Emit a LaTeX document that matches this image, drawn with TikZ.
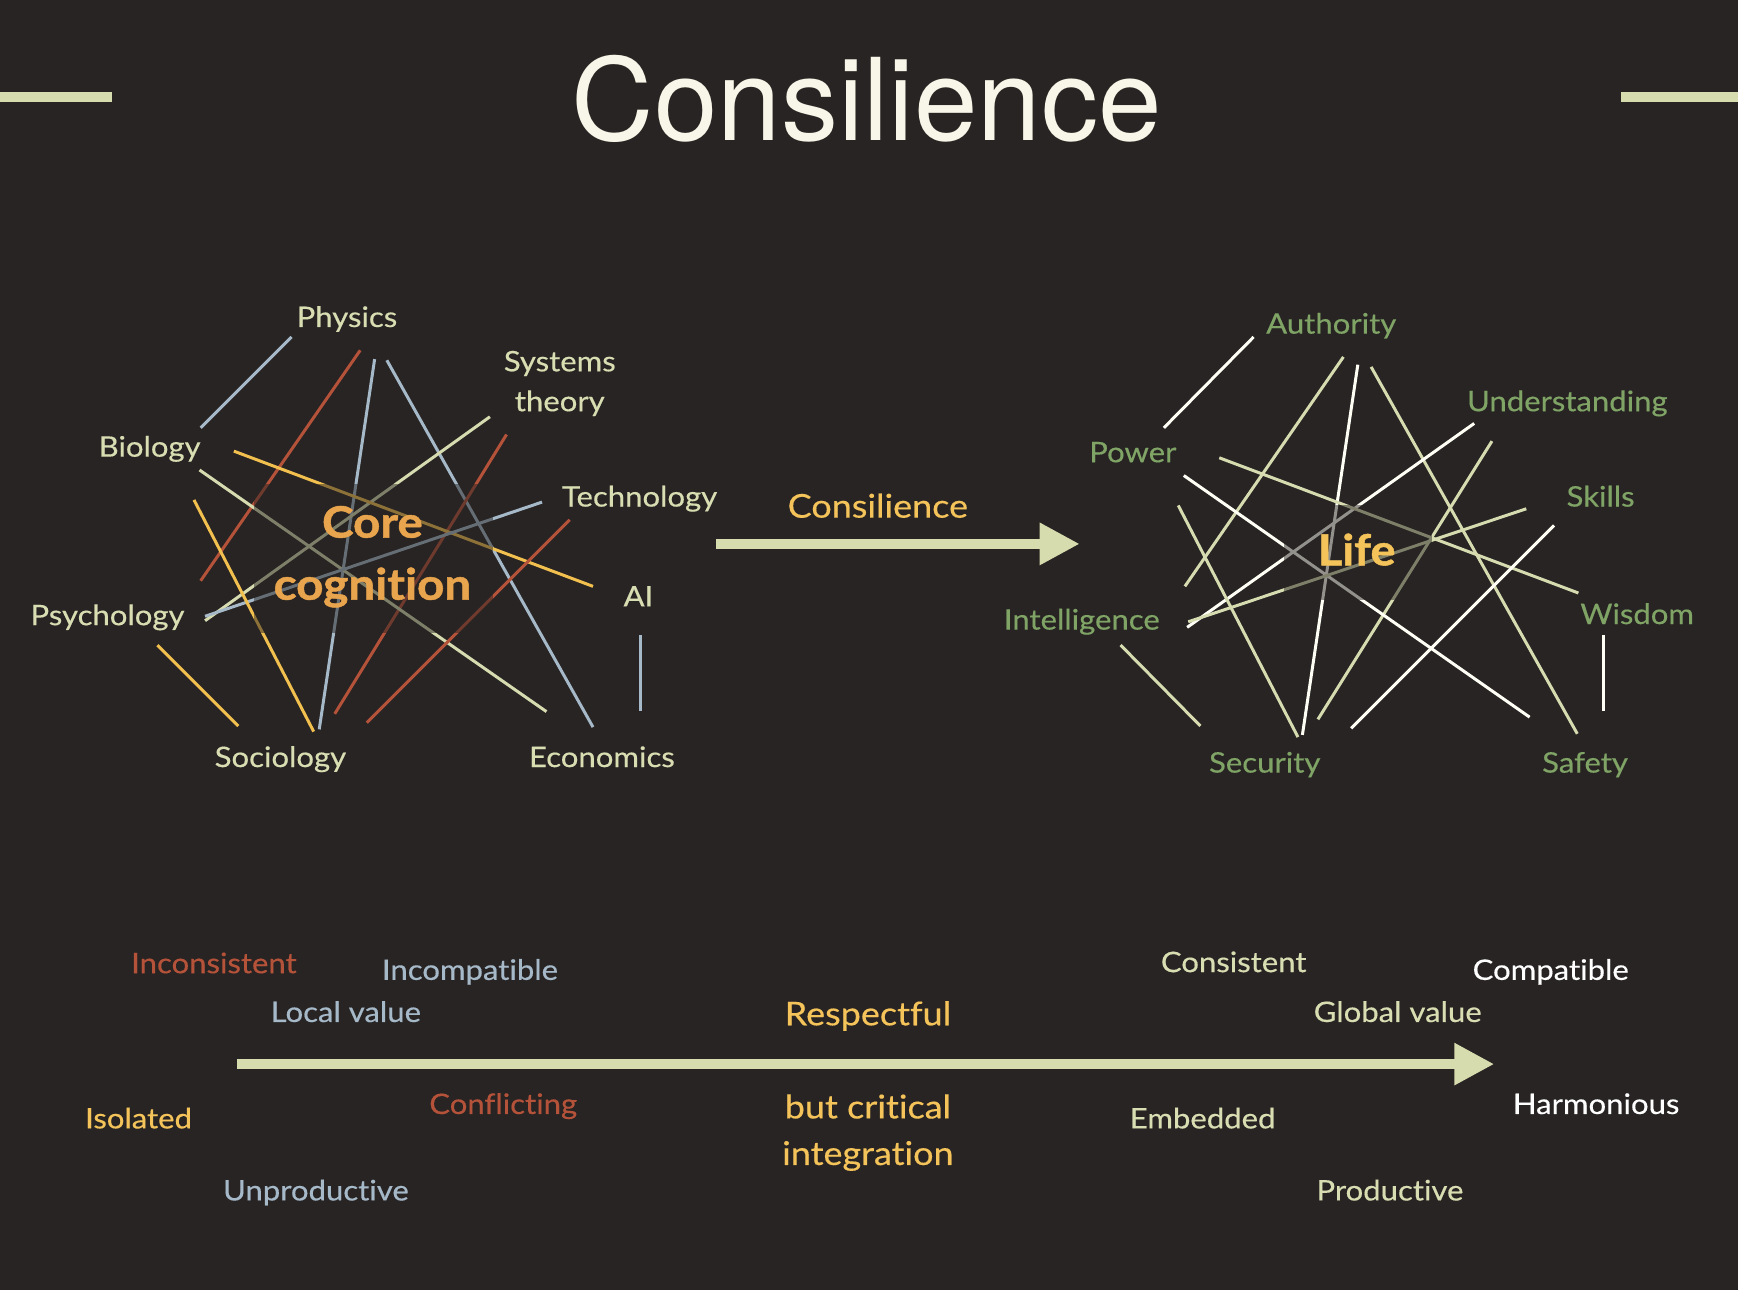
\documentclass[tikz,border=0pt]{standalone}
\usepackage{fontspec}
\setmainfont{Lato}[FakeStretch=1.1, FakeBold=0.4, Ligatures=NoCommon]
\newfontfamily\heavyfont{Lato}[FakeStretch=1.1, Ligatures=NoCommon, BoldFeatures={FakeBold=1.2}]
\newfontfamily\titlefont{TeX Gyre Heros}
\usetikzlibrary{arrows.meta}
\definecolor{bg}{HTML}{282423}
\definecolor{pale}{HTML}{D6DBB0}
\definecolor{paletext}{HTML}{D8DDB2}
\definecolor{redl}{HTML}{B5523A}
\definecolor{bluel}{HTML}{A6B9C9}
\definecolor{yell}{HTML}{F2C04E}
\definecolor{whitel}{HTML}{FFFFF6}
\definecolor{greent}{HTML}{7FA466}
\definecolor{oranget}{HTML}{E9A54D}
\definecolor{yellt}{HTML}{F4C35A}
\definecolor{titlec}{HTML}{F8F6E8}
\definecolor{arrowc}{HTML}{D6DCAD}
\begin{document}
\begin{tikzpicture}[x=1pt,y=-1pt,
  lab/.style={anchor=base, inner sep=0pt, font=\fontsize{25.5}{30}\selectfont},
  biglab/.style={anchor=base, inner sep=0pt, font=\fontsize{29.5}{36}\selectfont},
  heavy/.style={anchor=base, inner sep=0pt, font=\heavyfont\bfseries\fontsize{39}{46}\selectfont},
  seg/.style={line width=2.7pt},
  veil/.style={fill=bg, fill opacity=0.5},
  bigarrow/.style={arrowc, line width=8.5pt, -{Triangle[length=36pt,width=36pt]}}]
\fill[bg] (0,0) rectangle (1568,1164);
% title
\fill[arrowc] (0,83) rectangle (101,92);
\fill[arrowc] (1462,83) rectangle (1568,92);
\node[anchor=base, inner sep=0pt, text=titlec, font=\titlefont\fontsize{103}{110}\selectfont] (title) at (782,127) {Consilience};

% left network lines
\draw[seg, bluel] (263,304) -- (181,386);
\draw[seg, redl] (325,316) -- (181,524);
\draw[seg, bluel] (338,324) -- (288,658);
\draw[seg, bluel] (349,325) -- (535,656);
\draw[seg, pale] (442,376) -- (185,560);
\draw[seg, redl] (457,392) -- (302,644);
\draw[seg, yell] (211,407) -- (535,529);
\draw[seg, pale] (180,424) -- (493,642);
\draw[seg, bluel] (489,453) -- (185,556);
\draw[seg, redl] (514,469) -- (331,652);
\draw[seg, yell] (175,451) -- (283,660);
\draw[seg, yell] (142,582) -- (215,655);
\draw[seg, bluel] (578,573) -- (578,641);
\fill[veil] (229,437) rectangle (445,571);

% left labels
\begin{scope}[text=paletext]
\node[lab] (physics) at (313,295) {Physics};
\node[lab] (systems) at (505,335) {Systems};
\node[lab] (theory) at (505,371) {theory};
\node[lab] (biology) at (135,412) {Biology};
\node[lab] (technology) at (577,457) {Technology};
\node[lab] (ai) at (576,547) {AI};
\node[lab] (psychology) at (97,564) {Psychology};
\node[lab] (sociology) at (253,692) {Sociology};
\node[lab] (economics) at (543,692) {Economics};
\end{scope}
\node[heavy, text=oranget] (core) at (336,485) {Core};
\node[heavy, text=oranget] (cognition) at (336,541) {cognition};

% middle arrow
\coordinate (a1s) at (646,490.7);
\coordinate (a1e) at (974,490.7);
\draw[bigarrow] (a1s) -- (a1e);
\node[biglab, text=yellt] (conslabel) at (792,467) {Consilience};

% right network lines
\draw[seg, whitel] (1131,304) -- (1050,386);
\draw[seg, pale] (1212,322) -- (1069,529);
\draw[seg, whitel] (1225,329) -- (1175,663);
\draw[seg, pale] (1237,331) -- (1423,662);
\draw[seg, whitel] (1330,382) -- (1071,566);
\draw[seg, pale] (1346,398) -- (1189,649);
\draw[seg, pale] (1100,413) -- (1424,535);
\draw[seg, whitel] (1068,429) -- (1380,647);
\draw[seg, pale] (1377,459) -- (1072,561);
\draw[seg, whitel] (1402,474) -- (1219,657);
\draw[seg, pale] (1063,456) -- (1171,665);
\draw[seg, pale] (1011,582) -- (1083,655);
\draw[seg, whitel] (1447,573) -- (1447,641);
\fill[veil] (1158,456) rectangle (1292,541);

% right labels
\begin{scope}[text=greent]
\node[lab] (authority) at (1201,301) {Authority};
\node[lab] (understanding) at (1414,371) {Understanding};
\node[lab] (power) at (1022,417) {Power};
\node[lab] (skills) at (1444,457) {Skills};
\node[lab] (intelligence) at (976,568) {Intelligence};
\node[lab] (wisdom) at (1477,563) {Wisdom};
\node[lab] (security) at (1141,697) {Security};
\node[lab] (safety) at (1430,697) {Safety};
\end{scope}
\node[heavy, text=yellt, font=\heavyfont\bfseries\fontsize{38.5}{46}\selectfont] (life) at (1224,510) {Life};

% bottom arrow
\coordinate (a2s) at (214,960);
\coordinate (a2e) at (1348,960);
\draw[bigarrow] (a2s) -- (a2e);

% bottom labels
\node[lab, text=redl] (inconsistent) at (193,878) {Inconsistent};
\node[lab, text=bluel] (incompatible) at (424,884) {Incompatible};
\node[lab, text=bluel] (localvalue) at (312,922) {Local value};
\node[biglab, text=yellt] (respectful) at (783,925) {Respectful};
\node[lab, text=paletext] (consistent) at (1113,877) {Consistent};
\node[lab, text=white] (compatible) at (1399,884) {Compatible};
\node[lab, text=paletext] (globalvalue) at (1261,922) {Global value};
\node[lab, text=yellt] (isolated) at (125,1018) {Isolated};
\node[lab, text=redl] (conflicting) at (454,1005) {Conflicting};
\node[biglab, text=yellt] (butcritical) at (783,1009) {but critical};
\node[biglab, text=yellt] (integration) at (783,1051) {integration};
\node[lab, text=paletext] (embedded) at (1085,1018) {Embedded};
\node[lab, text=white] (harmonious) at (1440,1005) {Harmonious};
\node[lab, text=bluel] (unproductive) at (285,1083) {Unproductive};
\node[lab, text=paletext] (productive) at (1254,1083) {Productive};
\end{tikzpicture}
\end{document}
